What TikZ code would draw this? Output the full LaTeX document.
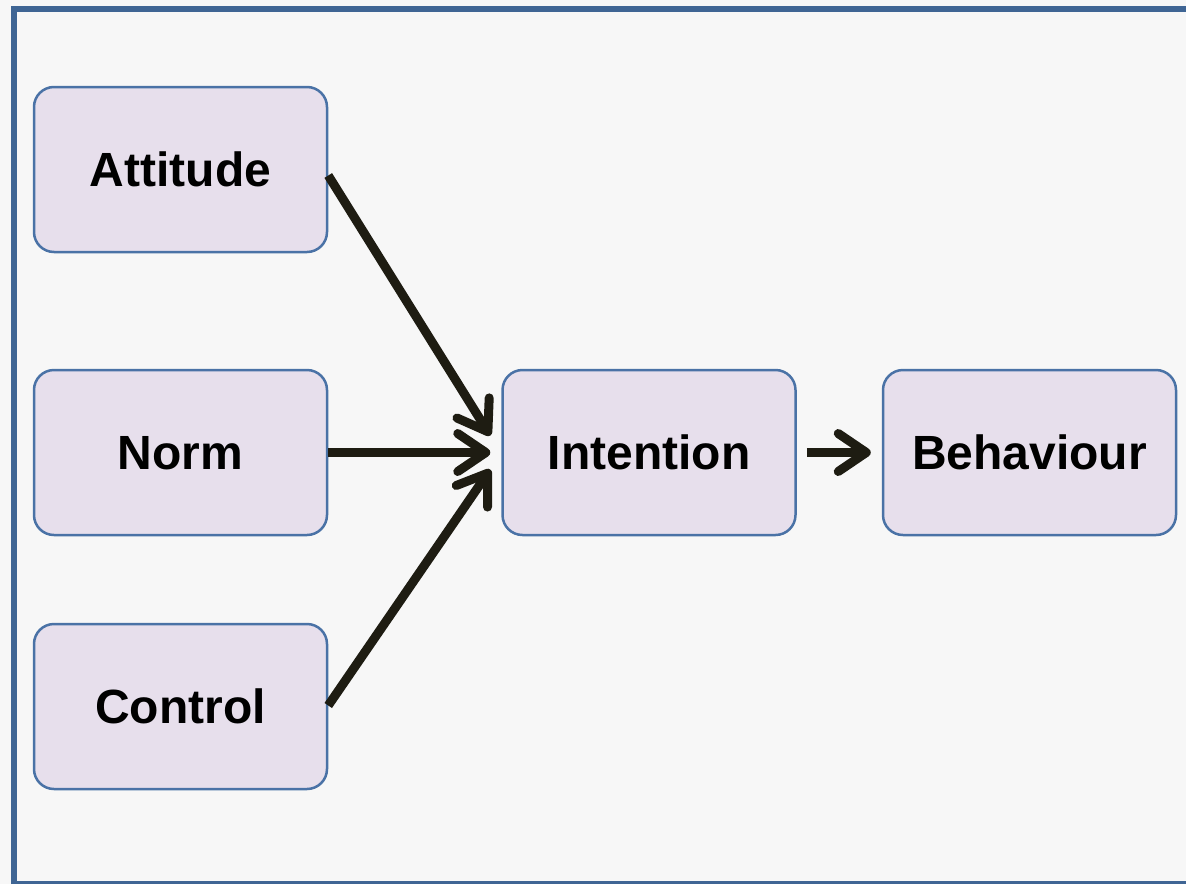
\documentclass[tikz,border=0pt]{standalone}
\usepackage{fontspec}
\setmainfont{Liberation Sans}
\usetikzlibrary{arrows.meta}
\definecolor{pagebg}{HTML}{F7F7F7}
\definecolor{framec}{HTML}{3F6594}
\definecolor{boxfill}{HTML}{E7DFEC}
\definecolor{boxdraw}{HTML}{4A72A6}
\definecolor{arrowc}{HTML}{1E1C12}
\tikzset{
  factor/.style={draw=boxdraw, line width=2.5pt, fill=boxfill, rounded corners=20pt,
    minimum width=293pt, minimum height=165pt, inner sep=0pt, text depth=0pt,
    font=\fontsize{48}{50}\selectfont\bfseries, text=black},
  conn/.style={draw=arrowc, line width=9pt,
    -{Straight Barb[length=28pt,width=38pt,line width=9pt,round]}}
}
\begin{document}
\begin{tikzpicture}[x=1pt,y=-1pt]
\fill[pagebg] (0,0) rectangle (1186,884);
\useasboundingbox (0,0) rectangle (1186,884);
\draw[framec, line width=6pt] (14,884) -- (14,9) -- (1190,9);
\draw[framec, line width=3pt] (14,882.5) -- (1190,882.5);
\node[factor] (att) at (180.5,169.5) {Attitude};
\node[factor] (norm) at (180.5,452.5) {Norm};
\node[factor] (ctrl) at (180.5,706.5) {Control};
\node[factor] (int) at (649,452.5) {Intention};
\node[factor] (beh) at (1029.5,452.5) {Behaviour};
\draw[conn] ([shift={(0pt,-6pt)}]att.east) -- ([shift={(-11pt,17pt)}]int.west);
\draw[conn] (norm.east) -- ([shift={(-11pt,0pt)}]int.west);
\draw[conn] ([shift={(0pt,1pt)}]ctrl.east) -- ([shift={(-11pt,-17pt)}]int.west);
\draw[conn] ([shift={(10pt,0pt)}]int.east) -- ([shift={(-11pt,0pt)}]beh.west);
\end{tikzpicture}
\end{document}
